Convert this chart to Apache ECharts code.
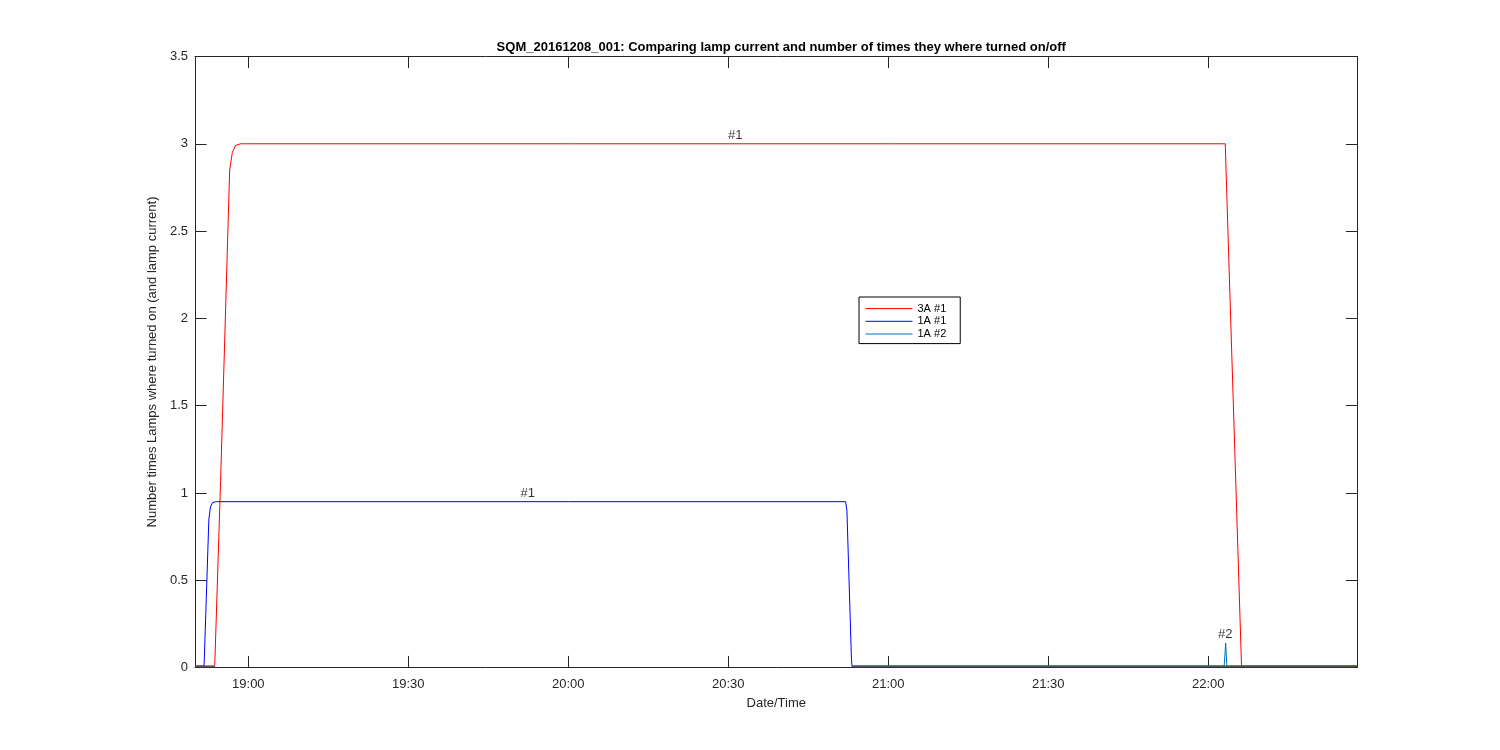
<!DOCTYPE html>
<html>
<head>
<meta charset="utf-8">
<script src="https://cdn.jsdelivr.net/npm/echarts@6/dist/echarts.min.js"></script>
<style>
html,body{margin:0;padding:0;background:#fff;}
#chart{width:1500px;height:750px;}
</style>
</head>
<body>
<div id="chart"></div>
<script>
// Time in minutes since midnight
var xMin = 1130;   // 18:50
var xMax = 1348;   // 22:28
var tickTimes = [1140, 1170, 1200, 1230, 1260, 1290, 1320];
var yTicks = [0, 0.5, 1, 1.5, 2, 2.5, 3, 3.5];

// 3A #1 (red)
var red3A1Times  = [1130, 1133.7, 1134.8, 1136.5, 1137.0, 1137.6, 1138.5, 1200, 1260, 1323.2, 1323.5, 1326.25, 1348];
var red3A1Values = [0.008, 0.008, 1.07, 2.85, 2.95, 2.99, 3.0, 3.0, 3.0, 3.0, 2.7, 0.008, 0.008];

// 1A #1 (blue)
var blue1A1Times  = [1130, 1131.7, 1132.6, 1132.9, 1133.3, 1134.0, 1200, 1252.0, 1252.25, 1253.1, 1253.2, 1348];
var blue1A1Values = [0.008, 0.008, 0.85, 0.92, 0.945, 0.95, 0.95, 0.95, 0.9, 0.05, 0.008, 0.008];

// 1A #2
var lamp1A2Times  = [1253.2, 1323.0, 1323.28, 1323.5, 1348];
var lamp1A2Values = [0.008, 0.008, 0.14, 0.008, 0.008];

// off-state baseline (drawn grey in the reference)
var baselineTimes  = [1130, 1133.75, null, 1253.15, 1348];
var baselineValues = [0.006, 0.006, null, 0.006, 0.006];

// text annotations
var annoTimes  = [1231.3, 1192.4, 1323.2];
var annoValues = [3.0, 0.95, 0.14];
var annoTexts  = ['#1', '#1', '#2'];

function zip(a, b) {
  var out = [];
  for (var i = 0; i < a.length; i++) {
    out.push(a[i] === null ? [null, null] : [a[i], b[i]]);
  }
  return out;
}
function fmt(v) {
  var h = Math.floor(v / 60), m = Math.round(v - h * 60);
  return (h < 10 ? '0' : '') + h + ':' + (m < 10 ? '0' : '') + m;
}

var FONT = 'Liberation Sans, Arial, Helvetica, sans-serif';
var AX = '#262626';

var chart = echarts.init(document.getElementById('chart'), null, {renderer: 'canvas'});

var annoData = annoTimes.map(function (t, i) {
  return {value: [t, annoValues[i]], label: {formatter: annoTexts[i]}};
});

var option = {
  animation: false,
  backgroundColor: '#fff',
  title: {
    text: 'SQM_20161208_001: Comparing lamp current and number of times they where turned on/off',
    left: 776.25,
    textAlign: 'center',
    top: 36,
    textStyle: {fontFamily: FONT, fontSize: 13, fontWeight: 'bold', color: '#000'}
  },
  legend: {
    orient: 'vertical',
    left: 859,
    top: 297,
    data: ['3A #1', '1A #1', '1A #2'],
    itemWidth: 47,
    itemHeight: 14,
    itemGap: 1.5,
    padding: [6, 14, 4, 6],
    backgroundColor: '#fff',
    borderColor: '#000',
    borderWidth: 1,
    borderRadius: 0,
    itemStyle: {opacity: 0},
    lineStyle: {width: 1, opacity: 1},
    textStyle: {fontFamily: FONT, fontSize: 11, color: '#000'}
  },
  grid: {left: 195, right: 142.5, top: 56.5, bottom: 82.5, containLabel: false},
  xAxis: [{
    type: 'value', min: xMin, max: xMax, position: 'bottom',
    name: 'Date/Time', nameLocation: 'middle', nameGap: 29,
    nameTextStyle: {fontFamily: FONT, fontSize: 13, color: AX},
    axisLine: {show: true, lineStyle: {color: AX, width: 1}},
    axisTick: {show: true, inside: true, length: 11.6, customValues: tickTimes, lineStyle: {color: AX}},
    axisLabel: {show: true, customValues: tickTimes, formatter: fmt, margin: 10, fontFamily: FONT, fontSize: 13, color: AX},
    splitLine: {show: false}
  }, {
    type: 'value', min: xMin, max: xMax, position: 'top',
    axisLine: {show: true, onZero: false, lineStyle: {color: AX, width: 1}},
    axisTick: {show: true, inside: true, length: 11.6, customValues: tickTimes, lineStyle: {color: AX}},
    axisLabel: {show: false},
    splitLine: {show: false}
  }],
  yAxis: [{
    type: 'value', min: 0, max: 3.5, interval: 0.5, position: 'left',
    name: 'Number times Lamps where turned on (and lamp current)',
    nameLocation: 'middle', nameGap: 31, nameRotate: 90,
    nameTextStyle: {fontFamily: FONT, fontSize: 13, color: AX},
    axisLine: {show: true, lineStyle: {color: AX, width: 1}},
    axisTick: {show: true, inside: true, length: 11.6, lineStyle: {color: AX}},
    axisLabel: {show: true, margin: 7, fontFamily: FONT, fontSize: 13, color: AX,
      formatter: function (v) { return String(v); }},
    splitLine: {show: false}
  }, {
    type: 'value', min: 0, max: 3.5, interval: 0.5, position: 'right',
    axisLine: {show: true, onZero: false, lineStyle: {color: AX, width: 1}},
    axisTick: {show: true, inside: true, length: 11.6, lineStyle: {color: AX}},
    axisLabel: {show: false},
    splitLine: {show: false}
  }],
  series: [{
    name: '3A #1', type: 'line', symbol: 'none', data: zip(red3A1Times, red3A1Values),
    lineStyle: {color: '#ff0000', width: 1}, itemStyle: {color: '#ff0000'}, z: 3
  }, {
    name: '1A #1', type: 'line', symbol: 'none', data: zip(blue1A1Times, blue1A1Values),
    lineStyle: {color: '#0000ff', width: 1}, itemStyle: {color: '#0000ff'}, z: 4
  }, {
    name: '1A #2', type: 'line', symbol: 'none', data: zip(lamp1A2Times, lamp1A2Values),
    lineStyle: {color: '#0072bd', width: 1}, itemStyle: {color: '#0072bd'}, z: 5
  }, {
    name: 'baseline', type: 'line', symbol: 'none', connectNulls: false,
    data: zip(baselineTimes, baselineValues),
    lineStyle: {color: '#555555', width: 1.5}, z: 6, silent: true
  }, {
    name: 'labels', type: 'scatter', symbolSize: 0, data: annoData, z: 7,
    label: {show: true, position: 'top', distance: 2, color: '#000', fontFamily: FONT, fontSize: 13}
  }]
};
chart.setOption(option);
</script>
</body>
</html>
